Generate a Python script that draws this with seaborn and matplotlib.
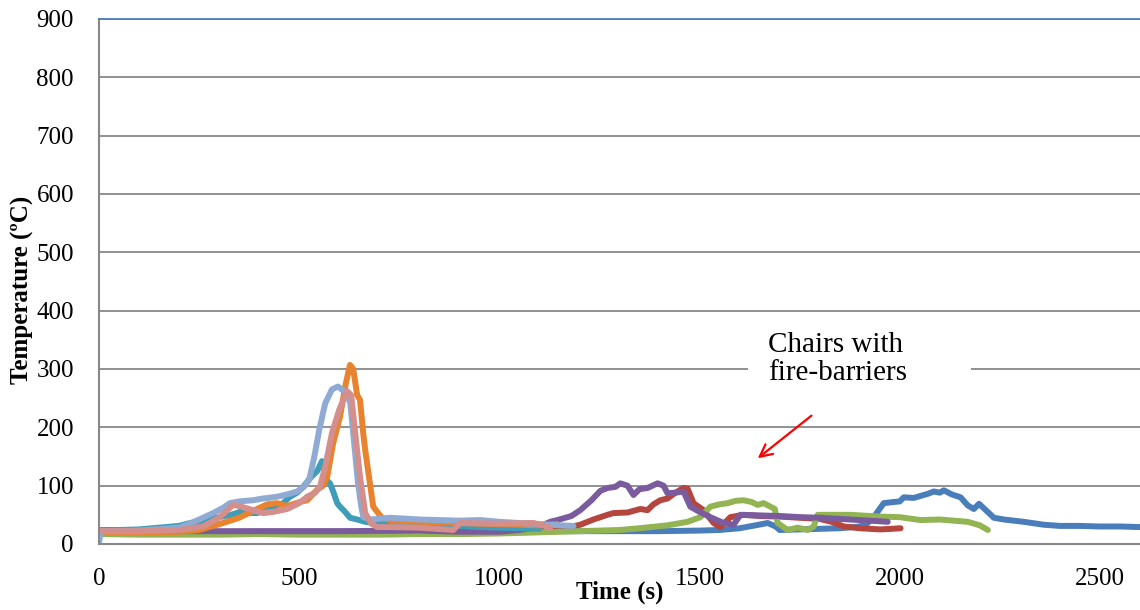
import matplotlib
matplotlib.use("Agg")
import matplotlib.pyplot as plt
from matplotlib.patches import Rectangle
import seaborn as sns
import pandas as pd

# Data
t_s1 = [0, 100, 200, 300, 400, 500, 600, 700, 800, 900, 1000, 1100, 1200, 1300, 1400, 1500, 1550, 1600, 1640,
        1670, 1690, 1700, 1750, 1800, 1850, 1900, 1920, 1935, 1960, 1985, 2000, 2010, 2035, 2050, 2070, 2085,
        2100, 2110, 2130, 2152, 2170, 2185, 2198, 2215, 2235, 2260, 2310, 2360, 2400, 2450, 2500, 2550, 2600]
T_s1 = [20, 20, 20, 20, 21, 21, 21, 21, 20, 20, 21, 22, 22, 22, 22, 23, 24, 27, 32,
        36, 30, 24, 25, 26, 27, 30, 36, 46, 70, 72, 73, 80, 79, 82, 86, 90,
        88, 92, 85, 80, 66, 60, 69, 58, 45, 42, 38, 33, 31, 31, 30, 30, 29]

t_s2 = [0, 200, 400, 600, 800, 1000, 1100, 1150, 1202, 1235, 1270, 1285, 1320, 1352, 1370, 1385, 1402, 1420,
        1440, 1460, 1470, 1485, 1510, 1535, 1552, 1577, 1610, 1650, 1700, 1750, 1800, 1830, 1860, 1900,
        1950, 1980, 2002]
T_s2 = [20, 20, 21, 21, 21, 21, 22, 25, 33, 42, 50, 53, 54, 60, 58, 68, 75, 78,
        88, 96, 95, 70, 58, 36, 29, 46, 50, 48, 47, 45, 43, 38, 30, 27,
        25, 26, 27]

t_s3 = [0, 100, 200, 300, 400, 500, 600, 700, 800, 900, 1000, 1100, 1200, 1300, 1350, 1378, 1420, 1470, 1502,
        1527, 1550, 1570, 1590, 1610, 1630, 1645, 1660, 1677, 1688, 1695, 1720, 1745, 1770, 1785, 1795,
        1835, 1877, 1950, 2000, 2052, 2100, 2170, 2200, 2220]
T_s3 = [17, 16, 16, 16, 17, 16, 16, 16, 17, 17, 18, 20, 22, 24, 27, 29, 32, 38, 46,
        64, 68, 70, 74, 75, 72, 67, 70, 64, 60, 36, 24, 28, 24, 30, 50,
        50, 50, 47, 46, 41, 42, 38, 32, 24]

t_s4 = [0, 200, 400, 600, 800, 900, 1000, 1050, 1100, 1127, 1150, 1180, 1202, 1230, 1252, 1270, 1290, 1302,
        1320, 1335, 1350, 1370, 1395, 1410, 1420, 1440, 1460, 1477, 1500, 1527, 1560, 1585, 1602, 1650,
        1700, 1752, 1800, 1850, 1900, 1950, 1970]
T_s4 = [22, 22, 22, 22, 23, 21, 21, 24, 30, 38, 42, 48, 58, 75, 91, 96, 98, 104,
        100, 84, 94, 96, 104, 100, 87, 88, 90, 64, 55, 46, 36, 33, 50, 49,
        48, 46, 45, 43, 41, 39, 38]

t_s5 = [0, 50, 100, 150, 200, 228, 250, 270, 300, 330, 352, 370, 395, 420, 435, 460, 477, 495, 510, 530,
        545, 557, 562, 568, 577, 585, 595, 602, 615, 627, 645, 665, 685, 720, 800, 900, 952, 1000, 1050, 1100]
T_s5 = [24, 24, 25, 28, 31, 36, 38, 41, 46, 50, 55, 53, 53, 58, 64, 70, 81, 88, 98, 115,
        125, 142, 128, 110, 104, 90, 70, 64, 55, 45, 42, 38, 36, 35, 34, 31, 29, 28, 27, 26]

t_s6 = [0, 100, 200, 250, 310, 350, 395, 420, 445, 470, 502, 520, 545, 560, 570, 585, 602, 615, 627, 635,
        645, 652, 660, 665, 672, 685, 695, 707, 730, 800, 900, 1000, 1100, 1145]
T_s6 = [20, 20, 21, 24, 36, 45, 60, 68, 70, 65, 72, 75, 93, 100, 115, 173, 218, 270, 307, 300,
        255, 247, 190, 161, 127, 64, 55, 45, 40, 38, 36, 34, 32, 34]

t_s7 = [0, 5, 100, 200, 227, 260, 285, 310, 327, 350, 385, 410, 445, 470, 495, 512, 525, 538, 550, 565,
        582, 597, 610, 620, 628, 635, 642, 647, 655, 660, 680, 727, 800, 900, 952, 1000, 1100, 1150, 1185]
T_s7 = [2, 22, 23, 28, 35, 45, 53, 62, 70, 73, 75, 78, 81, 85, 90, 98, 110, 150, 195, 241,
        265, 270, 263, 259, 240, 190, 140, 104, 65, 46, 42, 45, 42, 40, 41, 38, 34, 32, 31]

t_s8 = [0, 100, 200, 260, 300, 335, 350, 375, 410, 435, 470, 500, 520, 540, 552, 565, 582, 600, 620, 630,
        640, 652, 665, 680, 695, 727, 800, 885, 902, 1000, 1085, 1110, 1127]
T_s8 = [22, 22, 24, 30, 45, 67, 65, 60, 53, 55, 60, 70, 81, 88, 98, 132, 190, 230, 262, 255,
        190, 115, 53, 35, 29, 29, 28, 24, 36, 35, 36, 32, 27]

series_names = ["s1", "s2", "s3", "s4", "s5", "s6", "s7", "s8"]
series_t = [t_s1, t_s2, t_s3, t_s4, t_s5, t_s6, t_s7, t_s8]
series_T = [T_s1, T_s2, T_s3, T_s4, T_s5, T_s6, T_s7, T_s8]
colors = ["#4A7EBB", "#B5453F", "#92B453", "#7A5C9E", "#3E9DB8", "#E8832E", "#8FAAD3", "#D48F8D"]

x_ticks = [0, 500, 1000, 1500, 2000, 2500]
y_ticks = [0, 100, 200, 300, 400, 500, 600, 700, 800, 900]

rows = []
for name, ts, Ts in zip(series_names, series_t, series_T):
    for t, T in zip(ts, Ts):
        rows.append({"series": name, "Time": t, "Temp": T})
df = pd.DataFrame(rows)

sns.set_style("white")
plt.rcParams['font.family'] = ['Liberation Serif', 'DejaVu Serif']
plt.rcParams['text.color'] = 'black'
plt.rcParams['axes.labelcolor'] = 'black'
plt.rcParams['xtick.labelcolor'] = 'black'
plt.rcParams['ytick.labelcolor'] = 'black'

fig = plt.figure(figsize=(11.4, 6.1), dpi=100)
ax = fig.add_axes([0.0868, 0.1082, 0.9132, 0.8607])

sns.lineplot(data=df, x="Time", y="Temp", hue="series", hue_order=series_names,
             palette=colors, estimator=None, sort=False, legend=False,
             linewidth=4.3, ax=ax, solid_capstyle="round", solid_joinstyle="round")

ax.set_xlim(0, 2600)
ax.set_ylim(0, 900)
ax.set_xticks(x_ticks)
ax.set_yticks(y_ticks)
ax.tick_params(axis="both", direction="out", length=6, width=1.3, color="#888888",
               labelsize=18, labelcolor="black")
ax.tick_params(axis="x", pad=11)
ax.tick_params(axis="y", pad=12)
ax.set_axisbelow(True)
ax.yaxis.grid(True, color="#888888", linewidth=1.3)
ax.xaxis.grid(False)

for side in ["left", "bottom"]:
    ax.spines[side].set_color("#888888")
    ax.spines[side].set_linewidth(1.5)
ax.spines["right"].set_visible(False)
ax.spines["top"].set_color("#4A7EBB")
ax.spines["top"].set_linewidth(1.3)

ax.set_xlabel("Time (s)", fontsize=18, fontweight="bold", color="black")
ax.set_ylabel("Temperature (ºC)", fontsize=18, fontweight="bold", color="black")
ax.xaxis.set_label_coords(0.5, -0.07)
ax.yaxis.set_label_coords(-0.062, 0.484)

# annotation box hiding the gridline behind the text
ax.add_patch(Rectangle((1622, 262), 555, 110, facecolor="white", edgecolor="none", zorder=1.5))
ax.text(1672, 317, "Chairs with\nfire-barriers", fontsize=21, va="center", ha="left",
        multialignment="left", linespacing=1.1, zorder=3, color="black")
ax.annotate("", xy=(1640, 144), xytext=(1785, 223),
            arrowprops=dict(arrowstyle="->", color="red", lw=1.6, mutation_scale=22))

fig.savefig("out.png", dpi=100)
